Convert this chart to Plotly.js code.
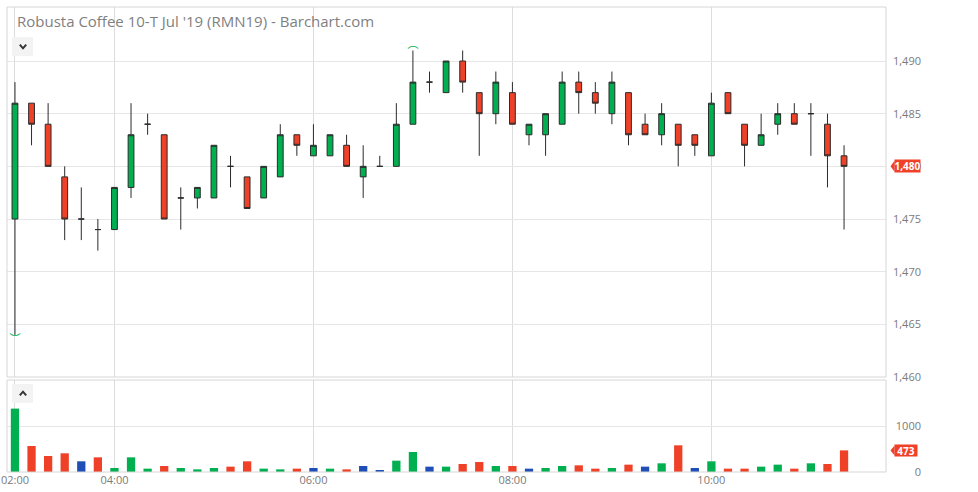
<!DOCTYPE html>
<html>
<head>
<meta charset="utf-8">
<script src="https://cdn.plot.ly/plotly-3.0.1.min.js"></script>
<style>html,body{margin:0;padding:0;background:#fff;}#chart{width:978px;height:492px;}</style>
</head>
<body>
<div id="chart"></div>
<script>
const times = ["02:00","03:10","03:20","03:30","03:40","03:50","04:00","04:10","04:20","04:30","04:40","04:50",
  "05:00","05:10","05:20","05:30","05:40","05:50","06:00","06:10","06:20","06:30","06:40","06:50",
  "07:00","07:10","07:20","07:30","07:40","07:50","08:00","08:10","08:20","08:30","08:40","08:50",
  "09:00","09:10","09:20","09:30","09:40","09:50","10:00","10:10","10:20","10:30","10:40","10:50",
  "11:00","11:10","11:20"];
const opens  = [1475,1486,1484,1479,1475,1474,1474,1478,1484,1483,1477,1477,1477,1480,1479,1477,1479,1483,1481,1481,1482,1479,1480,1480,1484,1488,1487,1490,1487,1485,1487,1483,1483,1484,1488,1487,1485,1487,1484,1483,1484,1483,1481,1487,1484,1482,1484,1485,1485,1484,1481];
const highs  = [1488,1486,1486,1480,1478,1475,1478,1486,1485,1483,1478,1478,1482,1481,1479,1480,1484,1483,1484,1483,1483,1482,1481,1486,1491,1489,1490,1491,1487,1489,1488,1484,1485,1489,1489,1488,1489,1487,1485,1486,1484,1483,1487,1487,1484,1485,1486,1486,1486,1485,1482];
const lows   = [1464,1482,1480,1473,1473,1472,1474,1477,1483,1475,1474,1476,1477,1478,1476,1477,1479,1481,1481,1481,1480,1477,1480,1480,1484,1487,1487,1487,1481,1484,1484,1482,1481,1484,1485,1485,1484,1482,1483,1482,1480,1481,1481,1485,1480,1482,1483,1484,1481,1478,1474];
const closes = [1486,1484,1480,1475,1475,1474,1478,1483,1484,1475,1477,1478,1482,1480,1476,1480,1483,1482,1482,1483,1480,1480,1480,1484,1488,1488,1490,1488,1485,1488,1484,1484,1485,1488,1487,1486,1488,1483,1483,1485,1482,1482,1486,1485,1482,1483,1485,1484,1485,1481,1480];
const volumes = [1387,569,350,409,234,321,88,321,73,131,88,58,88,117,234,73,58,73,88,73,58,131,44,248,438,117,117,175,219,131,131,73,88,131,146,73,88,161,117,190,584,88,234,73,73,117,161,73,190,175,473];
const xTickLabels = ["02:00","04:00","06:00","08:00","10:00"];
const priceTicks = [1460,1465,1470,1475,1480,1485,1490];
const volumeTicks = [0,1000];
const title = "Robusta Coffee 10-T Jul '19 (RMN19) - Barchart.com";

const GREEN = "#00b050", RED = "#ef4128", BLUE = "#1f4fb6";
const W = 978, H = 492, ML = 7, MR = 0, MT = 7, MB = 20;
const pw = W - ML - MR, ph = H - MT - MB;
const px2x = p => (p - ML) / pw;
const py2y = p => (H - MB - p) / ph;
const xRight = px2x(886);
const axisPos = px2x(921);
const priceRange = [1460, 1495.13], volRange = [0, 2013];
const pxPerPrice = (377 - 7) / (priceRange[1] - priceRange[0]);
const pxPerVol = (472 - 380) / (volRange[1] - volRange[0]);

const volColors = closes.map((c, i) => {
  if (i === 0) return c >= opens[0] ? GREEN : RED;
  return c > closes[i-1] ? GREEN : (c < closes[i-1] ? RED : BLUE);
});

const maxHigh = Math.max(...highs), iMax = highs.indexOf(maxHigh);
const minLow = Math.min(...lows), iMin = lows.indexOf(minLow);
const lastClose = closes[closes.length-1], lastVol = volumes[volumes.length-1];

const traces = [
  {type: "candlestick", x: times, open: opens, high: highs, low: lows, close: closes,
   xaxis: "x", yaxis: "y", whiskerwidth: 0,
   increasing: {line: {color: "#2b2b2b", width: 1}, fillcolor: GREEN},
   decreasing: {line: {color: "#2b2b2b", width: 1}, fillcolor: RED},
   hoverinfo: "skip", showlegend: false},
  {type: "bar", x: times, y: volumes, xaxis: "x", yaxis: "y2", width: 0.5,
   marker: {color: volColors, line: {width: 0}}, hoverinfo: "skip", showlegend: false},
  {type: "scatter", mode: "text", x: [times[iMax]], y: [maxHigh], text: ["︵"], textposition: "top center",
   textfont: {color: GREEN, size: 11, family: "Noto Sans CJK SC"}, xaxis: "x", yaxis: "y", showlegend: false, hoverinfo: "skip"},
  {type: "scatter", mode: "text", x: [times[iMin]], y: [minLow], text: ["︶"], textposition: "bottom center",
   textfont: {color: GREEN, size: 11, family: "Noto Sans CJK SC"}, xaxis: "x", yaxis: "y", showlegend: false, hoverinfo: "skip"}
];

const tickFont = {family: "Open Sans", size: 11, color: "#7a7a7a"};
const fmt = v => v.toLocaleString("en-US");

function pointer(yref, yv, halfPx) {
  const h = halfPx;
  return {type: "path", xref: "paper", yref: yref, layer: "above",
    path: `M ${px2x(890.5)},${yv} L ${px2x(894.5)},${yv + h} L ${px2x(894.5)},${yv - h} Z`,
    fillcolor: RED, line: {width: 0}};
}
function button(y0, y1, up) {
  const cy = (y0 + y1) / 2, cx = 23;
  const a = up ? 1.8 : -1.8;
  return [
    {type: "rect", xref: "paper", yref: "paper", x0: px2x(12), x1: px2x(33), y0: py2y(y1), y1: py2y(y0),
     fillcolor: "#f3f3f3", line: {width: 0}, layer: "above"},
    {type: "path", xref: "paper", yref: "paper", layer: "above",
     path: `M ${px2x(cx - 3.2)},${py2y(cy + a)} L ${px2x(cx)},${py2y(cy - a)} L ${px2x(cx + 3.2)},${py2y(cy + a)}`,
     line: {color: "#333333", width: 2}}
  ];
}

const layout = {
  width: W, height: H,
  margin: {l: ML, r: MR, t: MT, b: MB, pad: 0},
  paper_bgcolor: "#ffffff", plot_bgcolor: "#ffffff",
  font: {family: "Open Sans", color: "#7a7a7a"},
  showlegend: false,
  boxgap: 0.5,
  bargap: 0.5,
  title: {text: title, x: 17/W, xref: "container", xanchor: "left", y: 1 - 22/H, yref: "container", yanchor: "middle",
          font: {family: "Open Sans", size: 15, color: "#7f7f7f"}},
  xaxis: {type: "category", domain: [0, xRight], range: [-0.48, 52.53], anchor: "y2",
          tickmode: "array", tickvals: xTickLabels, ticktext: xTickLabels,
          showgrid: true, gridcolor: "#dcdcdc", gridwidth: 1, ticks: "", tickfont: tickFont,
          showline: false, zeroline: false, rangeslider: {visible: false}, fixedrange: true},
  yaxis: {domain: [py2y(377), 1], range: priceRange, anchor: "free", position: axisPos, side: "left",
          tickmode: "array", tickvals: priceTicks, ticktext: priceTicks.map(fmt),
          showgrid: true, gridcolor: "#e6e6e6", gridwidth: 1, ticks: "", tickfont: tickFont,
          showline: false, zeroline: false, fixedrange: true},
  yaxis2: {domain: [0, py2y(380)], range: volRange, anchor: "free", position: axisPos, side: "left",
          tickmode: "array", tickvals: volumeTicks, ticktext: volumeTicks.map(String),
          showgrid: true, gridcolor: "#e6e6e6", gridwidth: 1, ticks: "", tickfont: tickFont,
          showline: false, zeroline: false, fixedrange: true},
  shapes: [
    {type: "rect", xref: "x domain", yref: "y domain", x0: 0, x1: 1, y0: 0, y1: 1, line: {color: "#d6d6d6", width: 1}, layer: "above"},
    {type: "rect", xref: "x domain", yref: "y2 domain", x0: 0, x1: 1, y0: 0, y1: 1, line: {color: "#d6d6d6", width: 1}, layer: "above"},
    pointer("y", lastClose, 5.5 / pxPerPrice),
    pointer("y2", lastVol, 5 / pxPerVol),
    ...button(37, 56, false),
    ...button(384, 403, true)
  ],
  annotations: [
    {xref: "paper", yref: "y", x: px2x(894), y: lastClose, xanchor: "left", yanchor: "middle", showarrow: false,
     text: "<b>" + fmt(lastClose) + "</b>", bgcolor: RED, borderpad: 0, width: 25, height: 12, align: "center",
     font: {family: "Open Sans", size: 10, color: "#ffffff"}},
    {xref: "paper", yref: "y2", x: px2x(894), y: lastVol, xanchor: "left", yanchor: "middle", showarrow: false,
     text: "<b>" + lastVol + "</b>", bgcolor: RED, borderpad: 0, width: 22, height: 11, align: "center",
     font: {family: "Open Sans", size: 10, color: "#ffffff"}}
  ]
};

Plotly.newPlot("chart", traces, layout, {staticPlot: true, displayModeBar: false});
</script>
</body>
</html>
